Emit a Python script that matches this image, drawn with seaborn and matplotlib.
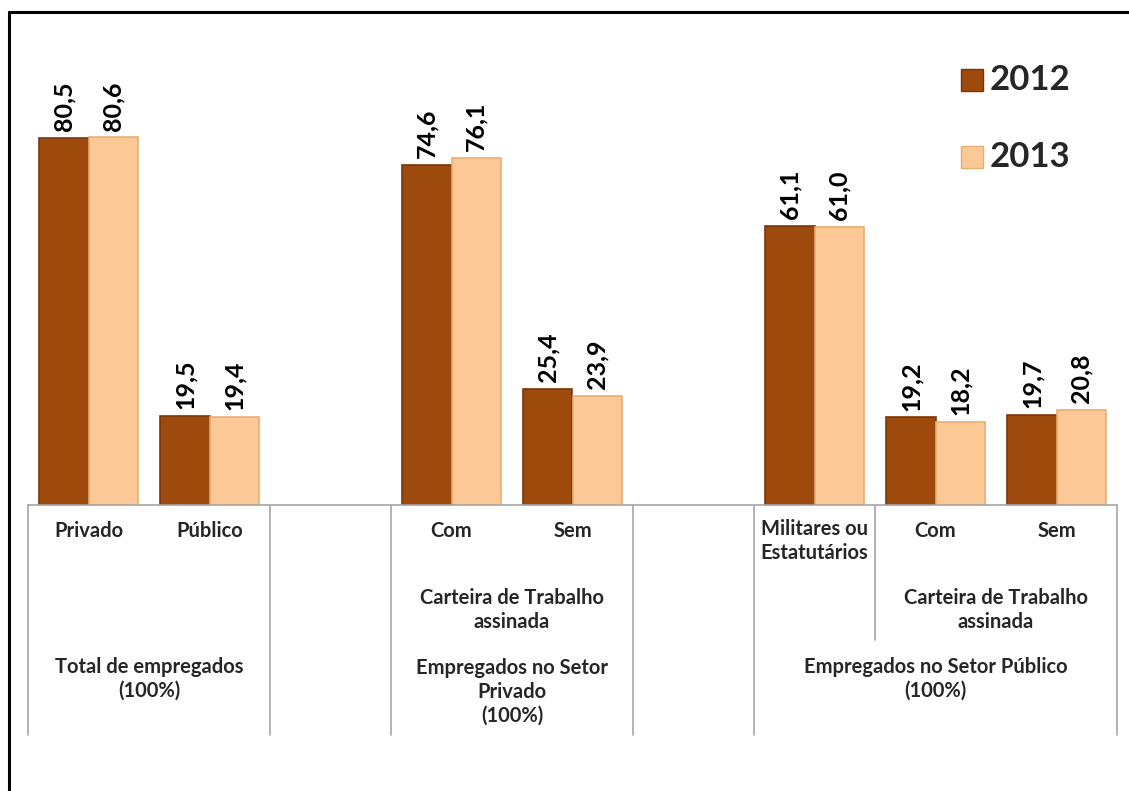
import numpy as np
import pandas as pd
import matplotlib
matplotlib.use("Agg")
import matplotlib.pyplot as plt
import seaborn as sns

# slots along the x axis (gaps are empty slots)
slots = ["Privado", "Público", "gap1", "Com_priv", "Sem_priv", "gap2",
         "Militares", "Com_pub", "Sem_pub"]
slot_labels = ["Privado", "Público", "", "Com", "Sem", "",
               "Militares ou\nEstatutários", "Com", "Sem"]

bar_slots = ["Privado", "Público", "Com_priv", "Sem_priv",
             "Militares", "Com_pub", "Sem_pub"]
val_2012 = [80.5, 19.5, 74.6, 25.4, 61.1, 19.2, 19.7]
val_2013 = [80.6, 19.4, 76.1, 23.9, 61.0, 18.2, 20.8]
years = ["2012", "2013"]

df = pd.DataFrame({
    "slot": bar_slots * 2,
    "ano": ["2012"] * len(bar_slots) + ["2013"] * len(bar_slots),
    "valor": val_2012 + val_2013,
})

colors = {"2012": "#9E4A0C", "2013": "#FCC895"}
edges = {"2012": "#7A3608", "2013": "#E8AE72"}

sns.set_theme(style="white")
plt.rcParams["font.family"] = ["Lato", "DejaVu Sans"]
plt.rcParams["font.weight"] = "bold"

W, H = 1129, 791
fig = plt.figure(figsize=(W / 100, H / 100), dpi=100)
ax = fig.add_axes([28 / W, 1 - 505 / H, (1117 - 28) / W, (505 - 49) / H])

sns.barplot(data=df, x="slot", y="valor", hue="ano", order=slots,
            hue_order=years, palette=colors, width=0.81, ax=ax,
            legend=False, saturation=1)

for cont, yr in zip(ax.containers, years):
    for b in cont:
        b.set_edgecolor(edges[yr])
        b.set_linewidth(1.2)
    labels = [f"{v:.1f}".replace(".", ",") for v in cont.datavalues]
    ax.bar_label(cont, labels=labels, rotation=90, padding=5,
                 fontsize=18, fontweight="bold", color="black")

ax.set_ylim(0, 100)
ax.set_xlim(-0.5, len(slots) - 0.5)
ax.set_yticks([])
ax.set_xticks([])
ax.set_xlabel("")
ax.set_ylabel("")
for s in ["top", "right", "left"]:
    ax.spines[s].set_visible(False)
ax.spines["bottom"].set_color("#A6A6A6")
ax.spines["bottom"].set_linewidth(1.2)

# category table below the axis
tr = ax.get_xaxis_transform()
def ypos(px):
    return (505 - px) / (505 - 49)

fs = 14.5
for i, lab in enumerate(slot_labels):
    if not lab:
        continue
    if "\n" in lab:
        ax.text(i, ypos(519), lab, transform=tr, ha="center", va="top",
                fontsize=fs, fontweight="bold", linespacing=1.25)
    else:
        ax.text(i, ypos(531), lab, transform=tr, ha="center", va="center",
                fontsize=fs, fontweight="bold")

ax.text(3.5, ypos(610), "Carteira de Trabalho\nassinada", transform=tr,
        ha="center", va="center", fontsize=fs, fontweight="bold", linespacing=1.25)
ax.text(7.5, ypos(610), "Carteira de Trabalho\nassinada", transform=tr,
        ha="center", va="center", fontsize=fs, fontweight="bold", linespacing=1.25)
ax.text(0.5, ypos(679), "Total de empregados\n(100%)", transform=tr,
        ha="center", va="center", fontsize=fs, fontweight="bold", linespacing=1.25)
ax.text(3.5, ypos(692), "Empregados no Setor\nPrivado\n(100%)", transform=tr,
        ha="center", va="center", fontsize=fs, fontweight="bold", linespacing=1.25)
ax.text(7.0, ypos(679), "Empregados no Setor Público\n(100%)", transform=tr,
        ha="center", va="center", fontsize=fs, fontweight="bold", linespacing=1.25)

# separator lines of the table
for xb in [-0.5, 1.5, 2.5, 4.5, 5.5, 8.5]:
    ax.plot([xb, xb], [0, ypos(735)], transform=tr, color="#A6A6A6",
            lw=1.2, clip_on=False)
ax.plot([6.5, 6.5], [0, ypos(640)], transform=tr, color="#A6A6A6",
        lw=1.2, clip_on=False)

# legend
for yr, ly in zip(years, [80, 157]):
    fig.patches.append(plt.Rectangle((961 / W, 1 - (ly + 11) / H), 22 / W, 22 / H,
                                     transform=fig.transFigure, facecolor=colors[yr],
                                     edgecolor=edges[yr], lw=1))
    fig.text(990 / W, 1 - ly / H, yr, fontsize=25, fontweight="bold", va="center", ha="left")

# outer frame (left and top visible)
fig.add_artist(plt.Line2D([9 / W, 9 / W], [0, 1 - 12 / H], color="black", lw=2.2,
                          transform=fig.transFigure))
fig.add_artist(plt.Line2D([9 / W, 1], [1 - 12 / H, 1 - 12 / H], color="black", lw=2.2,
                          transform=fig.transFigure))

fig.savefig("out.png", dpi=100, facecolor="white")
